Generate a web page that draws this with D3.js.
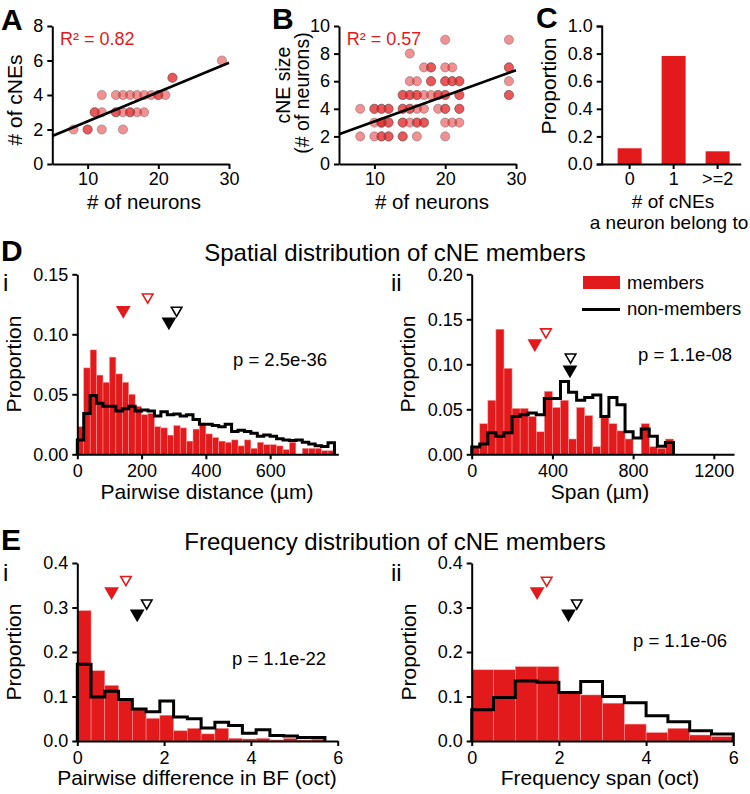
<!DOCTYPE html>
<html><head><meta charset="utf-8">
<script src="https://cdn.jsdelivr.net/npm/d3@7"></script>
<style>
body{margin:0;background:#fff;}
svg{display:block;}
</style></head><body>
<svg id="fig" width="750" height="794"></svg>
<script>
// ---------------- DATA ----------------
// Panel A: # of neurons vs # of cNEs (duplicates = overlapping points)
const neuronsA = [8,10,10,11,11,12,12,12,14,14,14,15,15,15,16,16,16,17,17,18,18,19,20,20,21,22,22,29];
const cnesA    = [2, 2, 2, 3, 3, 4, 3, 2, 4, 3, 3, 4, 3, 2, 4, 3, 3, 4, 3, 4, 3, 4, 4, 4, 4, 5, 5, 6];
const fitA_x = [5, 30];
const fitA_y = [1.62, 5.87];
const r2A = "R² = 0.82";

// Panel B: # of neurons vs cNE size
const neuronsB = [8,10,11,11,12,12,14,14,16,20,
  10,11,11,11,12,12,14,14,15,16,16,17,17,20,21,22,
  8,10,10,11,11,12,12,14,14,15,15,16,17,19,20,20,22,22,
  14,14,15,15,16,16,17,18,19,19,20,20,22,22,29,29,
  15,16,18,18,20,20,21,21,22,22,29,
  17,18,18,20,21,29,29,
  15,
  20,29];
const sizeB = [2,2,2,2,2,2,2,2,2,2,
  3,3,3,3,3,3,3,3,3,3,3,3,3,3,3,3,
  4,4,4,4,4,4,4,4,4,4,4,4,4,4,4,4,4,4,
  5,5,5,5,5,5,5,5,5,5,5,5,5,5,5,5,
  6,6,6,6,6,6,6,6,6,6,6,
  7,7,7,7,7,7,7,
  8,
  9,9];
const fitB_x = [5, 30];
const fitB_y = [2.15, 6.8];
const r2B = "R² = 0.57";

// Panel C
const catsC = ["0", "1", ">=2"];
const propC = [0.114, 0.783, 0.092];

// Panel D-i: pairwise distance, 20 um bins
const binDi = 20;
const membersDi = [0.023,0.072,0.087,0.066,0.060,0.081,0.067,0.060,0.050,0.040,
  0.033,0.034,0.023,0.022,0.016,0.024,0.022,0.011,0.021,0.026,
  0.017,0.014,0.011,0.010,0.012,0.007,0.012,0.005,0.010,0.008,
  0.008,0.007,0.004,0.010,0.000,0.005,0.005,0.005,0.003,0.003];
const nonDi = [0.012,0.034,0.049,0.0425,0.040,0.040,0.036,0.038,0.040,0.036,
  0.037,0.036,0.032,0.0355,0.033,0.0336,0.032,0.033,0.029,0.025,
  0.025,0.024,0.023,0.025,0.019,0.020,0.019,0.0175,0.015,0.016,
  0.015,0.013,0.012,0.0114,0.012,0.010,0.0086,0.0072,0.0064,0.0097];
const markDi_x = [143, 219, 285, 309];
const markDi_y = [0.120, 0.131, 0.1105, 0.120];
const pDi = "p = 2.5e-36";

// Panel D-ii: span, 40 um bins
const binDii = 40;
const membersDii = [0.007,0.034,0.060,0.139,0.0955,0.051,0.051,0.042,0.025,0.070,
  0.052,0.060,0.017,0.052,0.043,0.0085,0.043,0.034,0.026,0.017,
  0.000,0.034,0.0085,0.0067,0.017];
const nonDii = [0.008,0.0115,0.024,0.020,0.024,0.042,0.044,0.046,0.044,0.062,
  0.062,0.081,0.069,0.060,0.063,0.066,0.042,0.063,0.055,0.025,
  0.018,0.028,0.020,0.009,0.013];
const markDii_x = [313, 368, 487, 490];
const markDii_y = [0.123, 0.136, 0.094, 0.108];
const pDii = "p = 1.1e-08";

// Panel E-i: pairwise difference in BF (oct)
const binEi = 0.317;
const membersEi = [0.293,0.158,0.125,0.092,0.072,0.051,0.058,0.023,0.0285,0.016,
  0.0285,0.006,0.0045,0.006,0.0023,0.006,0.0023,0.004];
const nonEi = [0.1725,0.099,0.112,0.093,0.072,0.066,0.090,0.054,0.050,0.029,
  0.042,0.035,0.0173,0.0255,0.0125,0.0113,0.0078,0.0078];
const markEi_x = [0.79, 1.12, 1.38, 1.60];
const markEi_y = [0.336, 0.363, 0.286, 0.31];
const pEi = "p = 1.1e-22";

// Panel E-ii: frequency span (oct), 0.5 oct bins
const binEii = 0.5;
const membersEii = [0.160,0.160,0.167,0.167,0.110,0.1035,0.085,0.038,0.019,0.0285,0.0135,0.0098];
const nonEii = [0.070,0.0975,0.135,0.132,0.109,0.1335,0.100,0.086,0.057,0.0435,0.023,0.0158];
const markEii_x = [1.50, 1.72, 2.22, 2.41];
const markEii_y = [0.336, 0.361, 0.286, 0.31];
const pEii = "p = 1.1e-06";

// ---------------- DRAWING ----------------
const FONT = '"Liberation Sans", Arial, Helvetica, sans-serif';
const RED = '#e31a1c';
const svg = d3.select('#fig').attr('font-family', FONT);

function txt(x, y, s, size, opts = {}) {
  const t = svg.append('text').attr('x', x).attr('y', y).text(s)
    .attr('font-size', size).attr('font-family', FONT)
    .attr('fill', opts.fill || '#000')
    .attr('text-anchor', opts.anchor || 'start');
  if (opts.weight) t.attr('font-weight', opts.weight);
  return t;
}
function vtxt(x, y, s, size) {
  return svg.append('text').attr('transform', `translate(${x},${y}) rotate(-90)`)
    .attr('text-anchor', 'middle').attr('font-size', size).attr('font-family', FONT).text(s);
}
function styleAxis(g) {
  g.selectAll('.domain').attr('stroke', '#000').attr('stroke-width', 2);
  g.selectAll('.tick line').attr('stroke', '#000').attr('stroke-width', 2);
  g.selectAll('.tick text').attr('font-size', 18).attr('font-family', FONT).attr('fill', '#000');
}
function axes(x, y, xTicks, yTicks, yFmt, xPad) {
  const gx = svg.append('g').attr('transform', `translate(0,${y.range()[0]})`)
    .call(d3.axisBottom(x).tickValues(xTicks).tickSize(5).tickSizeOuter(0).tickPadding(xPad || 5)
      .tickFormat(d3.format('d')));
  styleAxis(gx);
  const gy = svg.append('g').attr('transform', `translate(${x.range()[0]},0)`)
    .call(d3.axisLeft(y).tickValues(yTicks).tickSize(5).tickSizeOuter(0).tickPadding(4)
      .tickFormat(yFmt));
  styleAxis(gy);
}

function scatterPanel(xs, ys, fx, fy, xr, yr, yMax, yTicks, r2) {
  const x = d3.scaleLinear().domain([5, 30]).range(xr);
  const y = d3.scaleLinear().domain([0, yMax]).range(yr);
  const g = svg.append('g');
  g.selectAll('circle').data(xs.map((v, i) => [v, ys[i]])).join('circle')
    .attr('cx', d => x(d[0])).attr('cy', d => y(d[1])).attr('r', 4.6)
    .attr('fill', RED).attr('fill-opacity', 0.48)
    .attr('stroke', '#555').attr('stroke-opacity', 0.45).attr('stroke-width', 0.9);
  svg.append('path').datum(fx.map((v, i) => [v, fy[i]]))
    .attr('d', d3.line().x(d => x(d[0])).y(d => y(d[1])))
    .attr('stroke', '#000').attr('stroke-width', 2.6).attr('fill', 'none');
  axes(x, y, [10, 20, 30], yTicks, d3.format('d'), 3.5);
  txt(x(6.1), 45, r2, 18, { fill: RED });
}

scatterPanel(neuronsA, cnesA, fitA_x, fitA_y, [52.3, 229], [164, 26], 8, [0, 2, 4, 6, 8], r2A);
scatterPanel(neuronsB, sizeB, fitB_x, fitB_y, [339, 516], [164, 26], 10, [0, 2, 4, 6, 8, 10], r2B);

// Panel C
{
  const x = d3.scaleBand().domain(catsC).range([601.7, 740.7]).paddingInner(0.4545).paddingOuter(0.3068).align(0.59);
  const y = d3.scaleLinear().domain([0, 1]).range([164, 26]);
  svg.append('g').selectAll('rect').data(catsC).join('rect')
    .attr('x', d => x(d)).attr('width', x.bandwidth())
    .attr('y', (d, i) => y(propC[i])).attr('height', (d, i) => y(0) - y(propC[i]))
    .attr('fill', RED);
  const gx = svg.append('g').attr('transform', `translate(0,164)`)
    .call(d3.axisBottom(x).tickSize(5).tickSizeOuter(0).tickPadding(3.5));
  styleAxis(gx);
  const gy = svg.append('g').attr('transform', `translate(601.7,0)`)
    .call(d3.axisLeft(y).tickValues([0, 0.2, 0.4, 0.6, 0.8, 1.0]).tickSize(5).tickPadding(4).tickFormat(d3.format('.1f')));
  styleAxis(gy);
}

// Histogram panels
function histPanel(members, non, bw, xMax, xr, yMax, yr, xTicks, yTicks, yFmt, mx, my, pText, pPos) {
  const x = d3.scaleLinear().domain([0, xMax]).range(xr);
  const y = d3.scaleLinear().domain([0, yMax]).range(yr);
  svg.append('g').selectAll('rect').data(members).join('rect')
    .attr('x', (d, i) => x(i * bw)).attr('width', (d, i) => x((i + 1) * bw) - x(i * bw))
    .attr('y', d => y(d)).attr('height', d => y(0) - y(d))
    .attr('fill', RED).attr('stroke', '#f4a0a0').attr('stroke-width', 0.5);
  const pts = [[0, 0]];
  non.forEach((v, i) => { pts.push([i * bw, v]); pts.push([(i + 1) * bw, v]); });
  pts.push([non.length * bw, 0]);
  svg.append('path').datum(pts)
    .attr('d', d3.line().x(d => x(d[0])).y(d => y(d[1])))
    .attr('fill', 'none').attr('stroke', '#000').attr('stroke-width', 3).attr('stroke-linejoin', 'miter');
  axes(x, y, xTicks, yTicks, yFmt, 5);
  const styles = [
    { fill: RED, stroke: RED, size: 62 },
    { fill: '#fff', stroke: RED, size: 48 },
    { fill: '#000', stroke: '#000', size: 62 },
    { fill: '#fff', stroke: '#000', size: 48 }
  ];
  mx.forEach((v, i) => {
    svg.append('path')
      .attr('d', d3.symbol(d3.symbolTriangle, styles[i].size)())
      .attr('transform', `translate(${x(v)},${y(my[i])}) rotate(180)`)
      .attr('fill', styles[i].fill).attr('stroke', styles[i].stroke).attr('stroke-width', 1.6);
  });
  txt(pPos[0], pPos[1], pText, 18.5);
}

histPanel(membersDi, nonDi, binDi, 812, [77.3, 338.3], 0.15, [454.3, 274.3],
  [0, 200, 400, 600], [0, 0.05, 0.10, 0.15], d3.format('.2f'), markDi_x, markDi_y, pDi, [233, 366]);
histPanel(membersDii, nonDii, binDii, 1300, [471.7, 734], 0.20, [454.3, 274.3],
  [0, 400, 800, 1200], [0, 0.05, 0.10, 0.15, 0.20], d3.format('.2f'), markDii_x, markDii_y, pDii, [638, 361]);
histPanel(membersEi, nonEi, binEi, 6, [77.3, 337.7], 0.4, [741, 563],
  [0, 2, 4, 6], [0, 0.1, 0.2, 0.3, 0.4], d3.format('.1f'), markEi_x, markEi_y, pEi, [232, 665]);
histPanel(membersEii, nonEii, binEii, 6, [471.7, 733.3], 0.4, [741, 563],
  [0, 2, 4, 6], [0, 0.1, 0.2, 0.3, 0.4], d3.format('.1f'), markEii_x, markEii_y, pEii, [633, 647]);

// Legend (D-ii)
svg.append('rect').attr('x', 583).attr('y', 276).attr('width', 37).attr('height', 13).attr('fill', RED);
txt(627, 289, 'members', 18.5);
svg.append('line').attr('x1', 582).attr('x2', 620).attr('y1', 309.5).attr('y2', 309.5)
  .attr('stroke', '#000').attr('stroke-width', 3);
txt(627, 315, 'non-members', 18.5);

// Panel letters
txt(1, 30, 'A', 30, { weight: 'bold' });
txt(272, 29, 'B', 30, { weight: 'bold' });
txt(536, 28, 'C', 30, { weight: 'bold' });
txt(1, 261, 'D', 30, { weight: 'bold' });
txt(1, 550, 'E', 30, { weight: 'bold' });
txt(3, 291, 'i', 24);
txt(391, 291, 'ii', 24);
txt(3, 581, 'i', 24);
txt(391, 581, 'ii', 24);

// Titles
txt(395, 261, 'Spatial distribution of cNE members', 24, { anchor: 'middle' });
txt(395, 550, 'Frequency distribution of cNE members', 24, { anchor: 'middle' });

// Axis labels
vtxt(22, 100, '# of cNEs', 21);
txt(144, 209, '# of neurons', 20.5, { anchor: 'middle' });
vtxt(290, 85, 'cNE size', 19.5);
vtxt(309, 93, '(# of neurons)', 19.5);
txt(432, 209, '# of neurons', 20.5, { anchor: 'middle' });
vtxt(556, 86, 'Proportion', 21);
txt(673, 208, '# of cNEs', 19, { anchor: 'middle' });
txt(669, 229, 'a neuron belong to', 19, { anchor: 'middle' });
vtxt(21, 364, 'Proportion', 21);
txt(207, 499, 'Pairwise distance (µm)', 21, { anchor: 'middle' });
vtxt(415, 364, 'Proportion', 21);
txt(600, 499, 'Span (µm)', 21, { anchor: 'middle' });
vtxt(21, 652, 'Proportion', 21);
txt(197, 785, 'Pairwise difference in BF (oct)', 21, { anchor: 'middle' });
vtxt(416, 652, 'Proportion', 21);
txt(600, 785, 'Frequency span (oct)', 21, { anchor: 'middle' });
</script>
</body></html>
